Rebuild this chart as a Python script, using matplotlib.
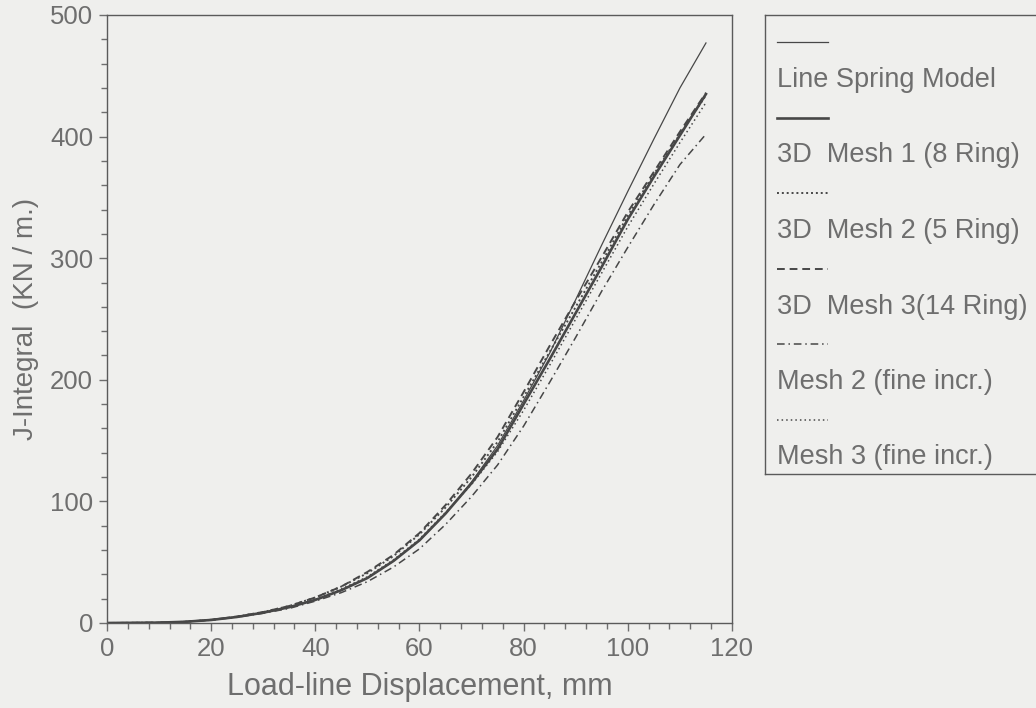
import matplotlib
matplotlib.use("Agg")
import matplotlib.pyplot as plt
from matplotlib.ticker import MultipleLocator

plt.rcParams["font.family"] = ["Liberation Sans", "DejaVu Sans"]

# ── data ──────────────────────────────────────────────────────────────────
disp = [0, 10, 15, 20, 25, 30, 35, 40, 45, 50, 55, 60, 65, 70, 75, 80, 85,
        90, 95, 100, 105, 110, 115]

line_spring = [0, 0.3, 1, 2.5, 5, 8.5, 13, 19, 27, 37, 51, 68, 90, 116, 146,
               183, 222, 266, 311, 355, 398, 440, 477]
mesh1_8ring = [0, 0.3, 1, 2.5, 5, 8.5, 13, 19, 27, 37, 51, 68, 90, 115, 143,
               180, 217, 255, 293, 332, 367, 401, 435]
mesh2_5ring = [0, 0.3, 1, 2.6, 5.3, 9, 14, 21, 30, 41, 55, 73, 95, 120, 149,
               186, 223, 260, 297, 335, 369, 402, 434]
mesh3_14ring = [0, 0.3, 1, 2.6, 5.3, 9, 14, 21, 30, 42, 56, 74, 97, 123, 153,
                190, 228, 265, 301, 338, 371, 404, 436]
mesh2_fine = [0, 0.3, 1, 2.4, 4.8, 8, 12, 18, 25, 34, 46, 61, 81, 104, 130,
              162, 198, 235, 273, 309, 344, 377, 402]
mesh3_fine = [0, 0.3, 1, 2.5, 5, 8.5, 13, 19.5, 28, 38, 52, 69, 91, 114, 141,
              175, 212, 250, 288, 326, 361, 395, 428]

labels = [
    "Line Spring Model",
    "3D  Mesh 1 (8 Ring)",
    "3D  Mesh 2 (5 Ring)",
    "3D  Mesh 3(14 Ring)",
    "Mesh 2 (fine incr.)",
    "Mesh 3 (fine incr.)",
]
series = [line_spring, mesh1_8ring, mesh2_5ring, mesh3_14ring, mesh2_fine, mesh3_fine]

# ── styles ────────────────────────────────────────────────────────────────
bg = "#efefed"
ink = "#474747"
txt = "#6e6e6e"
styles = [
    dict(linewidth=0.9, linestyle="-"),
    dict(linewidth=1.9, linestyle="-"),
    dict(linewidth=1.4, linestyle=(0, (1, 1.5))),
    dict(linewidth=1.4, linestyle=(0, (4, 2.5))),
    dict(linewidth=1.1, linestyle=(0, (5, 2.5, 1, 2.5))),
    dict(linewidth=1.1, linestyle=(0, (1, 2))),
]

W, H = 1036, 708
fig = plt.figure(figsize=(W / 100, H / 100), dpi=100, facecolor=bg)
ax = fig.add_axes([107 / W, 1 - 623 / H, (732 - 107) / W, (623 - 15) / H], facecolor=bg)

for ys, lab, st in zip(series, labels, styles):
    ax.plot(disp, ys, color=ink, label=lab, **st)

ax.set_xlim(0, 120)
ax.set_ylim(0, 500)
ax.xaxis.set_major_locator(MultipleLocator(20))
ax.xaxis.set_minor_locator(MultipleLocator(4))
ax.yaxis.set_major_locator(MultipleLocator(100))
ax.yaxis.set_minor_locator(MultipleLocator(20))
ax.tick_params(which="both", direction="out", color=txt, width=1.0,
               labelsize=18.5, labelcolor=txt, top=False, right=False)
ax.tick_params(which="major", length=6, pad=4)
ax.tick_params(which="minor", length=4.5)
for s in ax.spines.values():
    s.set_color("#5a5a5a")
    s.set_linewidth(1.0)

ax.set_xlabel("Load-line Displacement, mm", fontsize=22, color=txt, labelpad=8)
ax.set_ylabel("J-Integral  (KN / m.)", fontsize=20, color=txt, labelpad=8)

# ── legend: sample line above each label, box runs off the right edge ────
lg = fig.add_axes([765 / W, 1 - 474 / H, (1045 - 765) / W, (474 - 15) / H], facecolor=bg)
lg.set_xlim(765, 1045)
lg.set_ylim(474, 15)
lg.set_xticks([])
lg.set_yticks([])
for s in lg.spines.values():
    s.set_color("#5a5a5a")
    s.set_linewidth(1.0)

row0, step = 42, 75.5
for i, (lab, st) in enumerate(zip(labels, styles)):
    yl = row0 + i * step
    lg.plot([777, 828], [yl, yl], color=ink, **st)
    lg.text(777, yl + 38, lab, fontsize=19.5, color=txt, va="center", ha="left")

fig.savefig("out.png", dpi=100, facecolor=bg)
